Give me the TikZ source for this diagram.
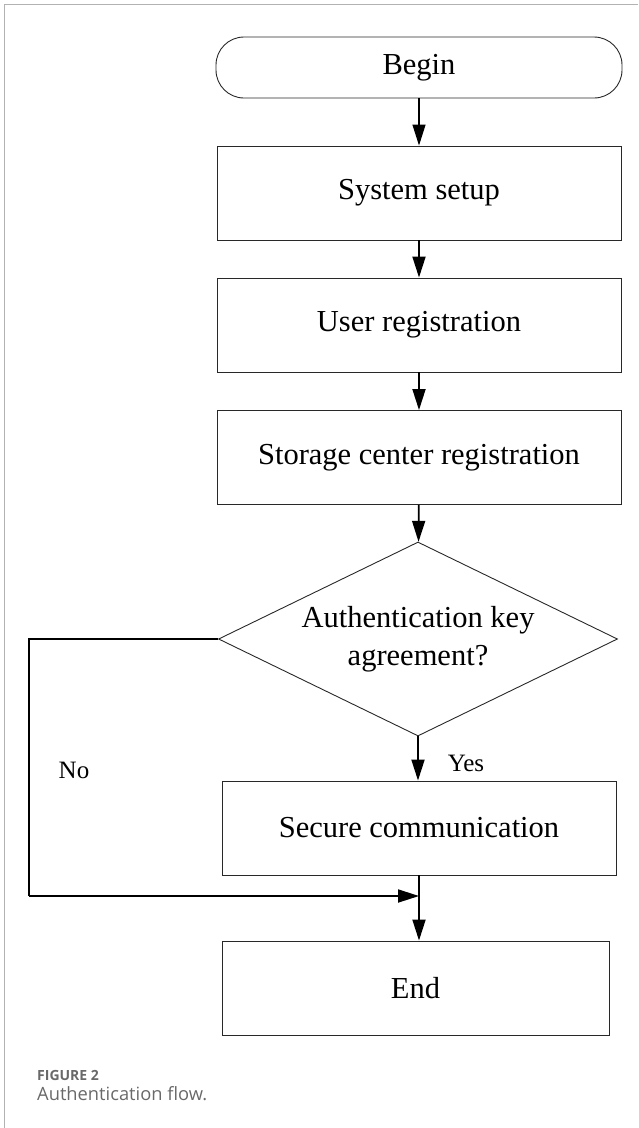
\documentclass[tikz,border=0pt]{standalone}
\usepackage{fontspec}
\setmainfont{Liberation Serif}
\newfontfamily\captionfont{Open Sans}
\usepackage{tikz}
\usetikzlibrary{positioning, arrows.meta, shapes.geometric}
\definecolor{framegray}{RGB}{178,178,178}
\definecolor{captiongray}{RGB}{105,105,105}
\definecolor{boxline}{RGB}{40,40,40}

\begin{document}
\begin{tikzpicture}[
  x=1pt, y=-1pt,
  process/.style={rectangle, draw=boxline, line width=0.9pt, minimum width=404pt, minimum height=94pt, inner sep=0pt, font=\fontsize{30.5}{36}\selectfont},
  terminal/.style={process, rounded corners=28pt, minimum width=406pt, minimum height=61pt},
  decision/.style={diamond, draw=boxline, line width=0.9pt, minimum width=399pt, minimum height=194pt, aspect=2.06, inner sep=0pt, align=center, font=\fontsize{30.5}{38}\selectfont},
  flow/.style={-{Triangle[length=21pt, width=13pt]}, line width=1.8pt},
  branch/.style={font=\fontsize{25}{30}\selectfont},
  frame/.style={draw=framegray, line width=1.5pt},
  caption/.style={anchor=base west, text=captiongray, inner sep=0pt}
]
  \useasboundingbox (0,0) rectangle (638,1128);

  % Frame
  \draw[frame] (4.5,1128) -- (4.5,4.5) -- (638,4.5);

  % Steps
  \node[terminal] (begin) at (419,67.5) {Begin};
  \node[process] (setup) at (419,193) {System setup};
  \node[process] (userreg) at (419,325) {User registration};
  \node[process] (storage) at (419,457.5) {Storage center registration};
  \node[decision] (auth) at (418,639) {Authentication key\\agreement?};
  \node[process, minimum width=394pt] (secure) at (419,828) {Secure communication};
  \node[process, minimum width=387pt] (end) at (415.5,988) {End};

  % Branch labels
  \node[branch] (yes) at (466,763) {Yes};
  \node[branch] (no) at (74,770) {No};

  % Connections
  \draw[flow, line width=1.2pt] (begin) -- (setup);
  \draw[flow] (setup) -- (userreg);
  \draw[flow] (userreg) -- (storage);
  \draw[flow] (storage) -- (auth);
  \draw[flow] (auth) -- (auth |- secure.north);

  % No branch
  \coordinate (join) at (419,896);
  \coordinate (nobend) at (29,896);
  \draw[line width=1.8pt] (auth.west) -| (nobend);
  \draw[flow] (nobend) -- (join);
  \draw[flow] (secure.south) -- (secure.south |- end.north);

  % Caption
  \node[caption, font=\captionfont\bfseries\fontsize{14}{17}\selectfont] (figlabel) at (37,1080) {FIGURE 2};
  \node[caption, font=\captionfont\fontsize{18.3}{22}\selectfont] (figtitle) at (37,1100) {Authentication flow.};
\end{tikzpicture}
\end{document}
